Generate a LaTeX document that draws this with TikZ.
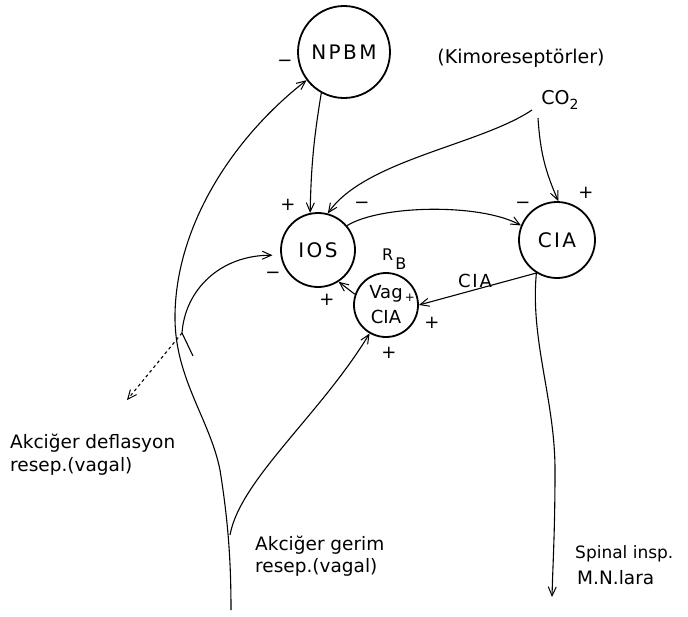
\documentclass[tikz,border=0pt]{standalone}
\usepackage{fontspec}
\setmainfont{DejaVu Sans}
\usetikzlibrary{arrows.meta}
\begin{document}
\begin{tikzpicture}[x=1pt,y=-1pt,
  circ/.style={circle, draw, line width=1.8pt, inner sep=0pt},
  conn/.style={line width=1.1pt, -{Straight Barb[length=9pt,width=8pt,line width=1pt]}},
  sgn/.style={font=\fontsize{18}{18}\selectfont, inner sep=0pt},
  lbl/.style={font=\fontsize{18.5}{19}\selectfont, inner sep=0pt, anchor=base west},
  intext/.style={font=\fontsize{20}{20}\selectfont\addfontfeature{LetterSpace=12}}
]
\useasboundingbox[fill=white] (0,0) rectangle (688,616);

% circles
\node[circ, intext, minimum size=92pt] (npbm) at (344,52) {NPBM};
\node[circ, intext, minimum size=74pt] (ios) at (318,250) {IOS};
\node[circ, intext, minimum size=76pt] (cia) at (557,240) {CIA};
\node[circ, minimum size=64pt, align=center, font=\fontsize{18}{25}\selectfont] (vag) at (386,305) {Vag\\CIA};

% labels
\node[font=\fontsize{19}{19}\selectfont, inner sep=0pt] (kimo) at (521,58) {(Kimoreseptörler)};
\node[font=\fontsize{19}{19}\selectfont, inner sep=0pt] (co2) at (560,100) {CO\raisebox{-5pt}{\fontsize{14}{14}\selectfont 2}};
\node[lbl] (rb) at (382,260) {\fontsize{16}{16}\selectfont R\kern2pt\raisebox{-9pt}{B}};
\node[font=\fontsize{18}{18}\selectfont\addfontfeature{LetterSpace=10}, inner sep=0pt] (cialbl) at (475,281) {CIA};

\node[lbl] (defl1) at (10,448) {Akciğer deflasyon};
\node[lbl] (defl2) at (10,471) {resep.(vagal)};
\node[lbl] (ger1) at (255,550) {Akciğer gerim};
\node[lbl] (ger2) at (255,572) {resep.(vagal)};
\node[lbl, font=\fontsize{17}{17}\selectfont] (sp1) at (575,558) {Spinal insp.};
\node[lbl] (sp2) at (577,584) {M.N.lara};

% signs
\node[sgn] (s1) at (285,63) {−};
\node[sgn] (s2) at (288,205) {+};
\node[sgn] (s3) at (362,205) {−};
\node[sgn] (s4) at (273,275) {−};
\node[sgn] (s5) at (327,300) {+};
\node[sgn] (s6) at (432,323) {+};
\node[sgn] (s7) at (389,353) {+};
\node[sgn, font=\fontsize{12}{12}\selectfont] (s8) at (410,298) {+};
\node[sgn] (s9) at (523,205) {−};
\node[sgn] (s10) at (586,193) {+};

% free-end coordinates
\coordinate (co2a) at (532,110);
\coordinate (co2b) at (538,118);
\coordinate (spend) at (552,597);
\coordinate (spmid) at (555,470);
\coordinate (stem) at (231,610);
\coordinate (fork2) at (230,535);
\coordinate (bc1) at (220,470);
\coordinate (bc2) at (175,320);
\coordinate (tail) at (193,356);
\coordinate (fork) at (182,333);
\coordinate (deflend) at (127,400);

% connectors
\draw[conn] (npbm.-119) to[bend right=4] (ios.102);
\draw[conn] (co2a) .. controls (480,145) and (365,160) .. (ios.75);
\draw[conn] (co2b) to[bend right=10] (cia.88);
\draw[conn] (ios.40) .. controls (380,205) and (480,203) .. (cia.158);
\draw[conn] (cia.-122) -- (vag.0);
\draw[conn] (vag.161) -- (ios.-57);
\draw[conn] (cia.-122) .. controls (530,340) and (555,400) .. (spmid) .. controls (555,530) and (553,560) .. (spend);
\draw[conn] (stem) .. controls (231,560) and (228,520) .. (bc1) .. controls (210,420) and (176,380) .. (bc2) .. controls (174,230) and (230,140) .. (npbm.217);
\draw[conn] (fork2) .. controls (240,480) and (320,415) .. (vag.-120);
\draw[conn, shorten >=8pt] (tail) -- (fork) .. controls (185,290) and (220,255) .. (ios.188);
\draw[conn, dashed] (fork) -- (deflend);
\end{tikzpicture}
\end{document}
